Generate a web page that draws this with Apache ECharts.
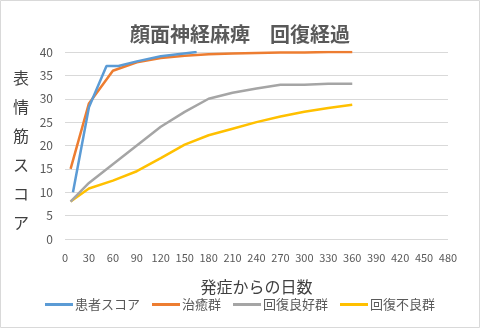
<!DOCTYPE html>
<html><head><meta charset="utf-8">
<script src="https://cdn.jsdelivr.net/npm/echarts@6/dist/echarts.min.js"></script>
<style>html,body{margin:0;padding:0;background:#fff}#c{width:480px;height:328px}</style>
</head><body><div id="c"></div>
<script>
const titleText = '顔面神経麻痺　回復経過';
const xAxisTitle = '発症からの日数';
const yAxisTitle = '表情筋スコア';
const seriesNames = ['患者スコア', '治癒群', '回復良好群', '回復不良群'];
const patientDays = [10, 30, 52, 67, 90, 120, 165];
const patientScore = [10, 28.2, 37, 37, 38, 39.1, 40];
const groupDays = [7, 30, 60, 90, 120, 150, 180, 210, 240, 270, 300, 330, 360];
const curedScore = [15, 29, 36, 37.8, 38.7, 39.2, 39.5, 39.7, 39.8, 39.9, 39.9, 40, 40];
const goodScore = [8, 12, 16, 20, 24, 27.2, 30, 31.3, 32.2, 33, 33, 33.2, 33.2];
const poorScore = [8, 10.8, 12.5, 14.5, 17.3, 20.2, 22.2, 23.6, 25, 26.2, 27.2, 28, 28.7];
const colors = ['#5B9BD5', '#ED7D31', '#A5A5A5', '#FFC000'];

const zip = (xs, ys) => xs.map((x, i) => [x, ys[i]]);
const font = '"Noto Sans CJK JP", "Noto Sans", sans-serif';
const chart = echarts.init(document.getElementById('c'), null, {renderer: 'canvas'});
const dataSets = [zip(patientDays, patientScore), zip(groupDays, curedScore), zip(groupDays, goodScore), zip(groupDays, poorScore)];
chart.setOption({
  animation: false,
  color: colors,
  textStyle: {fontFamily: font},
  title: {text: titleText, left: 'center', top: 19,
    textStyle: {fontSize: 20, fontWeight: 'bold', color: '#595959', fontFamily: font}},
  grid: {left: 65, right: 32, top: 52, bottom: 89},
  xAxis: {type: 'value', min: 0, max: 480, interval: 30,
    axisLine: {show: false}, axisTick: {show: false}, splitLine: {show: false},
    axisLabel: {color: '#595959', fontSize: 11, margin: 13, fontFamily: font},
    name: xAxisTitle, nameLocation: 'middle', nameGap: 40,
    nameTextStyle: {fontSize: 16, color: '#404040', fontFamily: font}},
  yAxis: {type: 'value', min: 0, max: 40, interval: 5,
    axisLine: {show: false}, axisTick: {show: false},
    splitLine: {lineStyle: {color: '#d9d9d9', width: 1}},
    axisLabel: {color: '#595959', fontSize: 12, margin: 12, fontFamily: font}},
  legend: {bottom: 12, left: 'center', icon: 'rect', itemWidth: 28, itemHeight: 3, itemGap: 12,
    textStyle: {fontSize: 13, color: '#595959', fontFamily: font, padding: [0, 0, 0, -3]},
    data: seriesNames},
  graphic: [
    {type: 'rect', shape: {x: 0.5, y: 0.5, width: 479, height: 327}, style: {fill: 'none', stroke: '#d9d9d9', lineWidth: 1}, silent: true},
    {type: 'text', x: 21, y: 150, style: {text: yAxisTitle.split('').join('\n'), fontSize: 16, lineHeight: 29,
      fill: '#404040', fontFamily: font, textAlign: 'center', textVerticalAlign: 'middle'}}
  ],
  series: seriesNames.map((n, i) => ({
    name: n, type: 'line', data: dataSets[i], showSymbol: false, symbol: 'none',
    lineStyle: {width: 2.5, color: colors[i]}, z: 10 - i
  }))
});
</script></body></html>
